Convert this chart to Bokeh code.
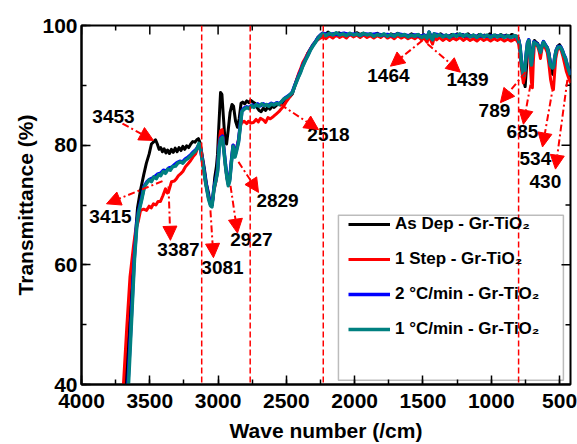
from bokeh.plotting import figure
from bokeh.models import (Range1d, SingleIntervalTicker, Span, Arrow,
                          NormalHead, ColumnDataSource, BoxAnnotation)
from bokeh.core.properties import value
from bokeh.embed import file_html
from bokeh.resources import INLINE

# ---------------- data: (wave number /cm, transmittance %) ----------------
as_dep = [(3678,40),(3655,48),(3630,57),(3605,65),(3590,69.5),(3568,72.5),(3545,75),(3525,77),
  (3505,78.5),(3488,80.2),(3470,80.6),(3458,80.9),(3445,80.2),(3432,79.3),(3420,79.6),(3408,78.9),
  (3395,79.4),(3382,78.7),(3370,79.2),(3356,78.6),(3342,79.3),(3328,78.8),(3314,79.5),(3300,78.9),
  (3286,79.6),(3272,79.1),(3258,79.8),(3244,79.3),(3230,79.9),(3215,79.6),(3200,80.2),(3185,80.6),
  (3170,80.5),(3155,80.9),(3144,81.1),(3132,80.4),(3118,78.5),(3100,76.0),(3085,73.5),(3070,72.0),
  (3058,70.2),(3048,69.8),(3038,71.0),(3025,74.5),(3012,76.5),(3004,78.5),(2995,83.0),(2982,88.8),
  (2972,88.5),(2962,85.0),(2950,81.0),(2938,80.2),(2926,82.5),(2912,85.5),(2898,86.8),(2887,86.5),
  (2872,84.0),(2858,83.0),(2845,84.5),(2832,87.0),(2820,87.2),(2805,86.9),(2790,87.4),(2775,87.1),
  (2760,87.5),(2745,87.2),(2730,87.0),(2715,86.3),(2700,85.8),(2685,85.6),(2668,86.2),(2652,85.8),
  (2636,86.4),(2620,86.0),(2605,86.5),(2590,86.3),(2575,86.6),(2560,86.9),(2545,86.7),(2529,87.1),
  (2510,87.6),(2490,88.0),(2470,88.2),(2456,88.6),(2440,89.8),(2426,90.8),(2410,91.8),(2397,92.4),
  (2380,93.5),(2360,94.3),(2345,95.3),(2324,96.0),(2305,96.8),(2287,97.3),(2270,98.0),(2251,98.4),
  (2235,98.7),(2215,98.5),(2195,98.9),(2175,98.4),(2155,98.6),(2135,98.3),(2115,98.8),(2095,98.5),
  (2075,98.7),(2055,98.3),(2035,98.6),(2010,98.4),(1985,98.8),(1960,98.5),(1935,98.7),(1910,98.3),
  (1885,98.6),(1860,98.4),(1835,98.7),(1810,98.3),(1785,98.5),(1760,98.2),(1735,98.6),(1710,98.4),
  (1685,98.7),(1660,98.3),(1635,98.5),(1610,98.2),(1585,98.6),(1560,98.3),(1535,98.5),(1510,98.1),
  (1490,98.4),(1470,98.0),(1455,98.8),(1440,98.2),(1425,97.9),(1410,98.5),(1390,98.3),(1370,98.6),
  (1350,98.2),(1330,98.4),(1310,98.1),(1290,98.5),(1270,98.2),(1250,98.6),(1230,98.3),(1210,98.5),
  (1190,98.1),(1170,98.6),(1150,98.2),(1130,98.4),(1110,98.0),(1090,98.5),(1070,98.2),(1050,98.4),
  (1030,98.1),(1010,98.6),(990,98.2),(970,98.4),(950,98.1),(930,98.5),(910,98.2),(890,98.4),
  (870,98.1),(850,98.5),(830,98.3),(812,98.2),(800,97.8),(790,96.5),(778,93.5),(765,91.0),
  (752,89.8),(742,93.0),(733,97.0),(725,97.6),(716,95.5),(708,93.8),(700,95.0),(692,97.0),
  (684,97.5),(672,97.2),(660,97.0),(648,96.0),(640,95.3),(630,96.5),(618,97.3),(605,96.8),
  (590,96.3),(578,95.5),(566,93.5),(556,92.0),(546,91.8),(538,93.5),(528,95.5),(515,96.5),
  (500,96.8),(488,96.3),(475,95.5),(462,94.5),(450,93.5),(435,92.4),(420,91.5)]

one_step = [(3693,40),(3670,49),(3645,58),(3620,63),(3605,65.6),(3583,67.4),(3568,69.1),(3545,69.3),
  (3524,69.1),(3505,69.8),(3490,69.5),(3473,70.2),(3455,70.0),(3440,70.6),(3422,70.6),(3405,71.5),
  (3385,72.7),(3372,72.0),(3363,72.2),(3350,73.2),(3341,73.9),(3320,74.0),(3305,74.4),(3290,74.9),
  (3275,75.2),(3258,75.6),(3239,76.4),(3220,76.9),(3202,77.4),(3185,78.0),(3166,78.5),(3148,79.6),
  (3135,80.2),(3125,79.5),(3110,76.8),(3090,73.5),(3070,71.2),(3056,70.2),(3045,70.0),(3030,72.5),
  (3015,74.0),(3004,76.0),(2992,80.5),(2982,82.4),(2970,82.6),(2958,79.5),(2946,76.5),(2935,74.5),
  (2925,73.5),(2915,74.5),(2902,77.5),(2890,80.0),(2876,78.5),(2865,79.5),(2850,81.0),(2838,83.2),
  (2826,83.8),(2810,84.0),(2790,83.6),(2778,84.0),(2760,83.7),(2741,83.8),(2722,84.3),(2705,83.9),
  (2690,84.5),(2668,84.2),(2652,83.8),(2635,84.6),(2618,84.4),(2595,84.8),(2575,85.2),(2555,85.6),
  (2540,86.0),(2520,86.5),(2500,87.3),(2480,87.9),(2460,88.6),(2440,89.9),(2426,90.9),(2410,92.0),
  (2397,92.7),(2380,93.8),(2360,94.6),(2342,95.4),(2324,96.1),(2305,96.8),(2287,97.3),(2270,97.6),
  (2251,97.9),(2235,98.1),(2210,97.8),(2185,98.3),(2160,97.9),(2135,98.4),(2110,98.0),(2085,98.3),
  (2060,97.9),(2035,98.5),(2010,98.1),(1985,98.4),(1960,98.0),(1935,98.4),(1910,98.0),(1885,98.3),
  (1860,97.9),(1835,98.3),(1810,98.0),(1785,98.4),(1760,97.9),(1735,98.2),(1710,97.8),(1685,98.3),
  (1660,97.9),(1635,98.2),(1610,97.8),(1585,98.1),(1560,97.8),(1535,98.2),(1510,97.6),(1490,97.9),
  (1470,97.2),(1455,98.4),(1442,97.5),(1430,96.9),(1418,98.0),(1400,97.6),(1380,98.0),(1355,97.5),
  (1330,97.9),(1305,97.5),(1280,97.9),(1255,97.6),(1230,98.0),(1205,97.5),(1180,97.9),(1155,97.5),
  (1130,97.8),(1105,97.4),(1080,97.9),(1055,97.5),(1030,97.8),(1005,97.4),(980,97.8),(955,97.5),
  (930,97.8),(905,97.4),(880,97.7),(855,97.4),(830,97.7),(812,97.5),(800,97.0),(790,95.5),
  (778,92.5),(765,90.4),(755,91.5),(745,94.5),(735,96.8),(726,97.3),(716,94.0),(706,90.5),
  (699,89.6),(692,94.0),(684,97.0),(672,96.8),(660,96.5),(648,95.5),(640,94.5),(630,96.0),
  (618,96.8),(605,96.3),(590,95.5),(578,93.5),(566,91.0),(553,89.5),(545,89.3),(538,91.5),
  (528,94.5),(515,96.0),(500,96.3),(488,95.8),(475,94.8),(462,93.5),(450,92.3),(435,91.3),(420,90.4)]

two_c_min = [(3660,40),(3638,50),(3614,61),(3596,66.8),(3583,68.9),(3561,71.0),(3540,73.2),(3520,73.9),
  (3500,74.3),(3480,74.5),(3460,74.8),(3440,75.2),(3420,75.3),(3400,75.8),(3380,75.7),(3360,76.2),
  (3340,76.3),(3320,76.7),(3300,77.1),(3280,77.3),(3260,77.2),(3240,77.7),(3220,78.0),(3200,78.4),
  (3180,78.9),(3160,79.3),(3145,79.9),(3132,79.8),(3110,76.8),(3090,73.8),(3070,71.3),(3056,70.2),
  (3045,70.0),(3030,72.9),(3015,74.4),(3004,75.8),(2992,79.8),(2982,81.2),(2968,81.5),(2955,78.8),
  (2946,76.8),(2935,74.8),(2925,73.5),(2915,74.3),(2902,77.5),(2890,80.0),(2876,78.3),(2865,79.3),
  (2850,80.8),(2838,83.3),(2826,85.7),(2810,86.2),(2790,86.4),(2770,86.3),(2750,86.7),(2730,86.5),
  (2710,86.9),(2690,86.6),(2670,86.9),(2650,86.7),(2630,86.7),(2610,87.0),(2590,86.8),(2570,87.1),
  (2550,86.9),(2530,87.4),(2510,87.9),(2490,88.2),(2470,88.5),(2456,88.9),(2440,89.9),(2426,90.7),
  (2410,91.6),(2397,92.3),(2380,93.3),(2360,94.3),(2342,95.1),(2324,96.0),(2305,96.7),(2287,97.3),
  (2270,97.9),(2251,98.4),(2235,98.7),(2200,98.5),(2160,98.6),(2120,98.5),(2080,98.7),(2040,98.5),
  (2000,98.6),(1960,98.4),(1920,98.6),(1880,98.5),(1840,98.6),(1800,98.4),(1760,98.5),(1720,98.3),
  (1680,98.6),(1640,98.4),(1600,98.3),(1560,98.4),(1520,98.2),(1490,98.4),(1470,98.0),(1455,98.9),
  (1442,98.1),(1430,97.7),(1418,98.6),(1380,98.4),(1340,98.3),(1300,98.2),(1260,98.4),(1220,98.4),
  (1180,98.3),(1140,98.3),(1100,98.2),(1060,98.3),(1020,98.2),(980,98.3),(940,98.2),(900,98.2),
  (860,98.1),(830,98.2),(812,98.1),(800,97.6),(790,96.6),(778,93.7),(765,91.8),(755,92.6),
  (745,95.1),(735,97.1),(726,97.6),(716,95.2),(706,93.6),(697,95.6),(688,97.3),(675,97.1),
  (662,96.9),(650,96.3),(640,95.6),(630,96.6),(618,97.3),(605,96.8),(590,96.3),(578,95.1),
  (566,93.4),(553,93.0),(545,93.1),(536,94.6),(525,95.9),(510,96.5),(494,96.5),(480,95.9),
  (468,95.1),(457,94.6),(445,93.5),(432,92.6),(420,91.8)]

one_c_min = [(3656,40),(3635,50),(3612,61),(3595,66.5),(3583,68.6),(3561,70.7),(3540,73.0),(3524,73.6),
  (3505,74.2),(3488,73.9),(3470,74.7),(3452,74.4),(3435,75.1),(3420,74.9),(3403,75.6),(3385,75.3),
  (3368,76.0),(3350,75.8),(3333,76.4),(3312,76.5),(3295,77.0),(3275,77.2),(3258,77.0),(3239,77.5),
  (3220,77.8),(3202,78.2),(3185,78.6),(3166,79.0),(3150,79.6),(3140,80.3),(3129,79.5),(3110,76.5),
  (3090,73.5),(3070,71.0),(3056,69.9),(3045,69.7),(3030,72.7),(3015,74.2),(3004,75.5),(2992,79.5),
  (2982,81.0),(2968,81.3),(2955,78.5),(2946,76.5),(2935,74.5),(2925,73.2),(2915,74.0),(2902,77.2),
  (2890,79.8),(2876,78.0),(2865,79.0),(2850,80.5),(2838,83.0),(2826,85.6),(2810,86.0),(2790,86.3),
  (2772,86.1),(2755,86.6),(2738,86.3),(2720,86.8),(2700,86.5),(2680,86.9),(2662,86.6),(2645,86.8),
  (2628,86.5),(2610,86.9),(2590,86.7),(2572,87.0),(2555,86.8),(2535,87.3),(2515,87.8),(2495,88.0),
  (2475,88.4),(2456,88.8),(2440,89.8),(2426,90.6),(2410,91.5),(2397,92.1),(2380,93.2),(2360,94.2),
  (2342,95.0),(2324,95.9),(2305,96.6),(2287,97.2),(2270,97.8),(2251,98.3),(2235,98.6),(2210,98.3),
  (2185,98.7),(2160,98.4),(2135,98.8),(2110,98.4),(2085,98.6),(2060,98.3),(2035,98.7),(2010,98.4),
  (1985,98.6),(1960,98.3),(1935,98.7),(1910,98.4),(1885,98.6),(1860,98.2),(1835,98.5),(1810,98.3),
  (1785,98.6),(1760,98.2),(1735,98.5),(1710,98.2),(1685,98.6),(1660,98.3),(1635,98.5),(1610,98.1),
  (1585,98.4),(1560,98.2),(1535,98.5),(1510,98.0),(1490,98.3),(1470,97.9),(1455,98.9),(1442,98.0),
  (1430,97.6),(1418,98.6),(1400,98.2),(1380,98.5),(1355,98.1),(1330,98.4),(1305,98.0),(1280,98.5),
  (1255,98.2),(1230,98.6),(1205,98.2),(1180,98.5),(1155,98.1),(1130,98.4),(1105,98.0),(1080,98.5),
  (1055,98.1),(1030,98.4),(1005,98.0),(980,98.4),(955,98.1),(930,98.4),(905,98.0),(880,98.3),
  (855,98.0),(830,98.3),(812,98.1),(800,97.5),(790,96.5),(778,93.5),(765,91.7),(755,92.5),
  (745,95.0),(735,97.0),(726,97.5),(716,95.0),(706,93.4),(697,95.5),(688,97.2),(675,97.0),
  (662,96.8),(650,96.2),(640,95.5),(630,96.5),(618,97.2),(605,96.7),(590,96.2),(578,95.0),
  (566,93.3),(553,92.9),(545,93.0),(536,94.5),(525,95.8),(510,96.4),(494,96.4),(480,95.8),
  (468,95.0),(457,94.5),(445,93.4),(432,92.5),(420,91.7)]

series_names = ["As Dep - Gr-TiO\u2082", "1 Step - Gr-TiO\u2082",
                "2 \u00b0C/min - Gr-TiO\u2082", "1 \u00b0C/min - Gr-TiO\u2082"]

# band assignments (wave number labels)
peak_labels = ["3453", "3415", "3387", "3081", "2927", "2829", "2518",
               "1464", "1439", "789", "685", "534", "430"]
# reference vertical lines (wave number)
marker_lines = [3120, 2765, 2230, 800]

# axis ticks
x_major = [4000, 3500, 3000, 2500, 2000, 1500, 1000, 500]
x_minor = [3750, 3250, 2750, 2250, 1750, 1250, 750]
y_major = [40, 60, 80, 100]
y_minor = [50, 70, 90]

# ---------------- annotation layout (data coordinates) ----------------
label_pos = [(3766, 84.8), (3788, 68.1), (3290, 62.6), (2968, 59.5), (2756, 64.3),
             (2565, 70.7), (2192, 81.8), (1753, 91.6), (1174, 90.9), (977, 85.8),
             (772, 82.3), (677, 77.7), (604, 74.0)]
arrow_tail = [(3700, 83.6), (3407, 74.0), (3363, 73.1), (3056, 69.1), (2909, 73.2),
              (2851, 77.2), (2543, 86.8), (1504, 97.5), (1467, 96.9), (750, 92.2),
              (713, 90.1), (545, 90.1), (443, 90.9)]
arrow_head = [(3473, 80.8), (3817, 70.2), (3349, 64.1), (3034, 61.2), (2858, 65.3),
              (2704, 72.1), (2265, 82.6), (1738, 93.2), (1226, 92.2), (933, 87.1),
              (765, 83.5), (625, 79.7), (530, 76.0)]

FONT = "Liberation Sans"
W, H = 577, 444
B_LEFT, B_TOP, B_RIGHT, B_BOTTOM = 81, 25, 7, 56
X0, X1, Y0, Y1 = 4000, 420, 40, 100
FRAME_W = W - B_LEFT - B_RIGHT
FRAME_H = H - B_TOP - B_BOTTOM

p = figure(width=W, height=H, output_backend="svg", toolbar_location=None,
           x_range=Range1d(X0, X1), y_range=Range1d(Y0, Y1),
           min_border_left=B_LEFT, min_border_right=B_RIGHT,
           min_border_top=B_TOP, min_border_bottom=B_BOTTOM)
p.xgrid.visible = False
p.ygrid.visible = False
p.outline_line_color = "black"
p.outline_line_width = 2
p.background_fill_color = "white"

for ax in (p.xaxis[0], p.yaxis[0]):
    ax.axis_line_width = 2
    ax.major_tick_in = 9
    ax.major_tick_out = 0
    ax.minor_tick_in = 5
    ax.minor_tick_out = 0
    ax.major_tick_line_width = 1.5
    ax.minor_tick_line_width = 1.5
    ax.major_label_text_font = FONT
    ax.major_label_text_font_style = "bold"
    ax.major_label_text_color = "black"
    ax.major_label_text_font_size = "21px"
    ax.axis_label_text_font = FONT
    ax.axis_label_text_font_style = "bold"
    ax.axis_label_text_font_size = "21px"
    ax.axis_label_text_color = "black"

p.xaxis.ticker = SingleIntervalTicker(interval=500, num_minor_ticks=2)
p.yaxis.ticker = SingleIntervalTicker(interval=20, num_minor_ticks=2)
p.xaxis.axis_label = "Wave number (/cm)"
p.yaxis.axis_label = "Transmittance (%)"
p.xaxis.major_label_standoff = 9
p.xaxis.axis_label_standoff = 8
p.yaxis.major_label_standoff = 4
p.yaxis.axis_label_standoff = 2

# mirrored inward ticks on the top and right frame edges
dy_major = 9 * (Y1 - Y0) / FRAME_H
dy_minor = 5 * (Y1 - Y0) / FRAME_H
dx_major = 9 * (X0 - X1) / FRAME_W
dx_minor = 5 * (X0 - X1) / FRAME_W
p.segment(x0=x_major, y0=[Y1] * len(x_major), x1=x_major, y1=[Y1 - dy_major] * len(x_major),
          line_color="black", line_width=1.5)
p.segment(x0=x_minor, y0=[Y1] * len(x_minor), x1=x_minor, y1=[Y1 - dy_minor] * len(x_minor),
          line_color="black", line_width=1.5)
p.segment(x0=[X1] * len(y_major), y0=y_major, x1=[X1 + dx_major] * len(y_major), y1=y_major,
          line_color="black", line_width=1.5)
p.segment(x0=[X1] * len(y_minor), y0=y_minor, x1=[X1 + dx_minor] * len(y_minor), y1=y_minor,
          line_color="black", line_width=1.5)

colors = ["black", "#ff0000", "#0000ff", "#008080"]
widths = [3, 3, 3.5, 3.5]
for data, name, c, w in zip([as_dep, one_step, two_c_min, one_c_min], series_names, colors, widths):
    xs = [a for a, b in data]
    ys = [b for a, b in data]
    p.line(xs, ys, line_color=c, line_width=w, legend_label=name, line_join="round")

for loc in marker_lines:
    p.add_layout(Span(location=loc, dimension="height", line_color="#ff0000",
                      line_dash="6 3", line_width=1.5))

for (tx, ty), (hx, hy) in zip(arrow_tail, arrow_head):
    p.add_layout(Arrow(x_start=tx, y_start=ty, x_end=hx, y_end=hy,
                       line_color="#ff0000", line_width=2, line_dash="7 3 2 3",
                       end=NormalHead(size=14, fill_color="#ff0000", line_color="#ff0000")))

lab_src = ColumnDataSource(dict(x=[a for a, b in label_pos], y=[b for a, b in label_pos],
                                t=peak_labels))
p.text(x="x", y="y", text="t", source=lab_src, text_font=value(FONT),
       text_font_style="bold", text_font_size=value("19px"), text_color="black",
       text_align="center", text_baseline="middle")

# legend frame
p.add_layout(BoxAnnotation(left=2119, right=472, bottom=40.7, top=68.3,
                           fill_alpha=0, line_color="#222222", line_width=1.5))

lg = p.legend[0]
lg.location = (263, 40)
lg.border_line_alpha = 0
lg.background_fill_alpha = 0
lg.padding = 4
lg.spacing = 13
lg.margin = 0
lg.glyph_width = 42
lg.glyph_height = 22
lg.label_height = 22
lg.label_standoff = 5
lg.label_text_font = FONT
lg.label_text_font_style = "bold"
lg.label_text_font_size = "17px"
lg.label_text_color = "black"

open("out.html", "w").write(file_html(p, INLINE))
